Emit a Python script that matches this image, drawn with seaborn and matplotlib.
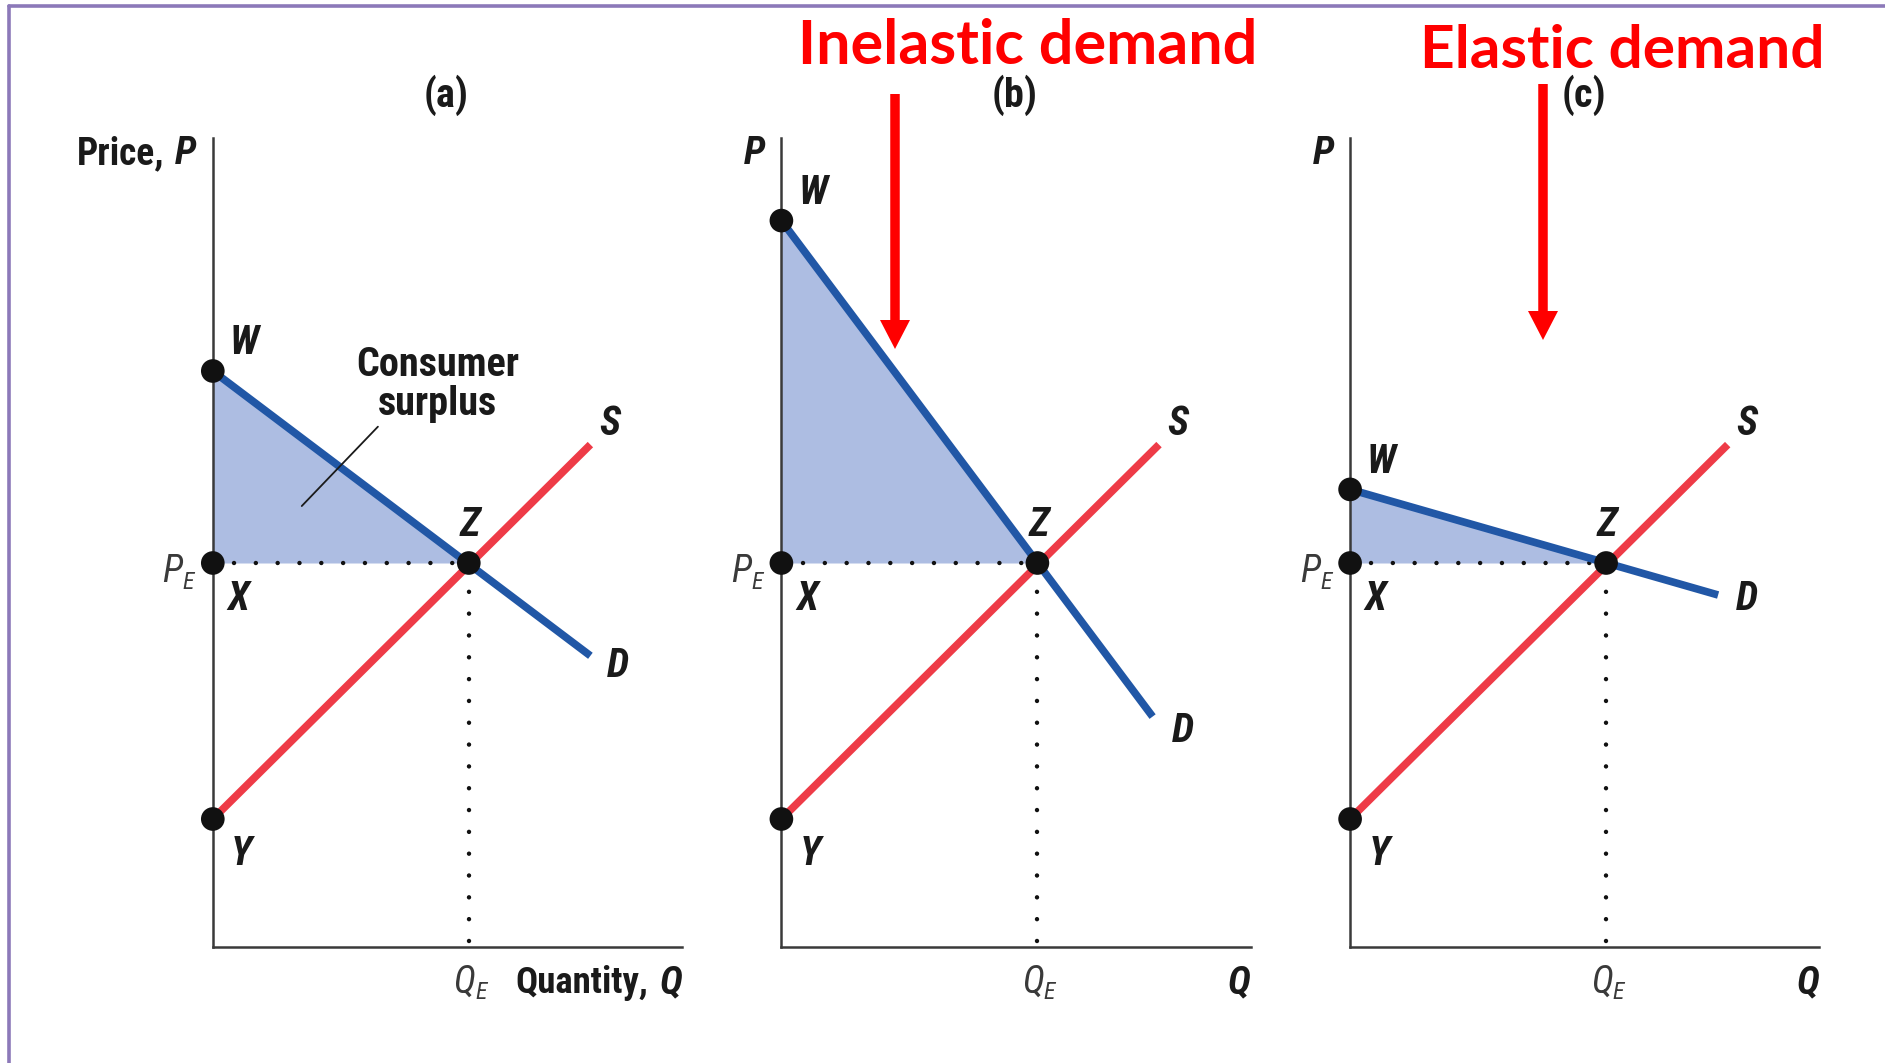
import numpy as np
import pandas as pd
import matplotlib
matplotlib.use("Agg")
import matplotlib.pyplot as plt
import seaborn as sns
from matplotlib.patches import FancyArrow
from matplotlib.lines import Line2D

# ---------------- data ----------------
panel_tags = ["(a)", "(b)", "(c)"]
y_axis_names = ["Price,", "", ""]
x_axis_names = ["Quantity,", "", ""]
headlines = ["Inelastic demand", "Elastic demand"]
eq_quantity = 4.0
eq_price = 6.0
supply_q = [0.0, 5.9]
supply_p = [2.0, 7.85]
demand_top_p = [9.0, 11.35, 7.15]      # point W on each panel
demand_end_q = [5.9, 5.8, 5.75]
demand_end_p = [4.55, 3.6, 5.5]
d_label_q = [6.33, 6.27, 6.2]
d_label_p = [4.39, 3.38, 5.43]

# ---------------- style ----------------
sns.set_theme(style="white")
COND = ["Roboto Condensed", "Roboto", "DejaVu Sans"]
plt.rcParams["font.family"] = COND

RED = "#EE3B47"
BLUE = "#2157A6"
FILL = "#ADBDE2"
AX = "#3a3a3a"
INK = "#1a1a1a"

W_PX, H_PX = 1885, 1063
fig = plt.figure(figsize=(W_PX / 100, H_PX / 100), dpi=100)
fig.patch.set_facecolor("white")

unit = 64.0                     # pixels per data unit
xmax, ymax = 7.33, 12.64
origins_x = [212.8, 781.4, 1350.1]
origin_y = 947.0

lab_kw = dict(family=COND, fontsize=29, fontweight="bold", fontstyle="italic",
              ha="center", va="center", color=INK)
sub_kw = dict(family=COND, fontstyle="italic", color="#3a3a3a", clip_on=False,
              va="baseline")

for i in range(3):
    left = origins_x[i] / W_PX
    bottom = (H_PX - origin_y) / H_PX
    ax = fig.add_axes([left, bottom, xmax * unit / W_PX, ymax * unit / H_PX])
    ax.set_xlim(0, xmax)
    ax.set_ylim(0, ymax)
    ax.set_xticks([])
    ax.set_yticks([])
    for s in ["top", "right"]:
        ax.spines[s].set_visible(False)
    for s in ["left", "bottom"]:
        ax.spines[s].set_color(AX)
        ax.spines[s].set_linewidth(1.8)
    ax.patch.set_alpha(0)

    w = demand_top_p[i]
    # consumer surplus
    ax.fill_between([0, eq_quantity], [w, eq_price], [eq_price, eq_price],
                    color=FILL, lw=0, zorder=1)

    # dotted guides
    dot_kw = dict(color="#111111", lw=3.2, dash_capstyle="round",
                  linestyle=(0, (0.01, 4.9)), zorder=2)
    ax.plot([0.33, eq_quantity], [eq_price, eq_price], **dot_kw)
    ax.plot([eq_quantity, eq_quantity], [0.1, eq_price], **dot_kw)

    df = pd.DataFrame({
        "q": supply_q + [0.0, demand_end_q[i]],
        "p": supply_p + [w, demand_end_p[i]],
        "curve": ["S", "S", "D", "D"],
    })
    sns.lineplot(data=df, x="q", y="p", hue="curve", units="curve",
                 estimator=None, sort=False, legend=False,
                 palette={"S": RED, "D": BLUE}, lw=5.5, ax=ax,
                 zorder=3, clip_on=False, solid_capstyle="butt")

    pts = pd.DataFrame({"q": [0.0, 0.0, 0.0, eq_quantity],
                        "p": [w, eq_price, supply_p[0], eq_price]})
    sns.scatterplot(data=pts, x="q", y="p", color="#111111", s=290,
                    edgecolor="none", ax=ax, zorder=5, clip_on=False)
    ax.set_xlabel("")
    ax.set_ylabel("")

    # point labels
    ax.text(0.49, w + 0.43, "W", **lab_kw)
    ax.text(eq_quantity + 0.02, eq_price + 0.59, "Z", **lab_kw)
    ax.text(0.40, 5.43, "X", **lab_kw)
    ax.text(0.45, 1.45, "Y", **lab_kw)
    ax.text(6.2, 8.17, "S", **lab_kw)
    ax.text(d_label_q[i], d_label_p[i], "D", **lab_kw)

    # P_E and Q_E
    ax.text(-0.47, 5.70, "P", fontsize=27, ha="right", **sub_kw)
    ax.text(-0.47, 5.60, "E", fontsize=17, ha="left", **sub_kw)
    ax.text(4.10, -0.72, "Q", fontsize=27, ha="right", **sub_kw)
    ax.text(4.10, -0.82, "E", fontsize=17, ha="left", **sub_kw)

    # axis names
    ax.text(-0.25, 12.4, "P", family=COND, fontsize=28, fontweight="bold",
            fontstyle="italic", ha="right", va="center", color=INK)
    if y_axis_names[i]:
        ax.text(-0.76, 12.4, y_axis_names[i], family=COND, fontsize=27,
                fontweight="bold", ha="right", va="center", color=INK)
    if x_axis_names[i]:
        ax.text(6.80, -0.72, x_axis_names[i], family=COND, fontsize=26.5,
                fontweight="bold", ha="right", va="baseline", color=INK)
    ax.text(xmax, -0.72, "Q", family=COND, fontsize=28, fontweight="bold",
            fontstyle="italic", ha="right", va="baseline", color=INK)

    # panel tag
    ax.text(3.65, 13.3, panel_tags[i], family=COND, fontsize=29,
            fontweight="bold", ha="center", va="center", color=INK,
            clip_on=False)

    if i == 0:
        ax.text(3.51, 8.79, "Consumer\nsurplus", family=COND, fontsize=29,
                fontweight="bold", ha="center", va="center",
                linespacing=1.02, color=INK)
        ax.plot([1.39, 2.58], [6.89, 8.13], color=INK, lw=1.3, zorder=6)

# ---------------- overlay (pixel coords) ----------------
ov = fig.add_axes([0, 0, 1, 1])
ov.set_xlim(0, W_PX)
ov.set_ylim(H_PX, 0)
ov.axis("off")
ov.patch.set_alpha(0)

PURPLE = "#8C79B9"
ov.add_line(Line2D([9, W_PX], [5.5, 5.5], color=PURPLE, lw=2.6))
ov.add_line(Line2D([9, 9], [5.5, H_PX], color=PURPLE, lw=2.6))

title_kw = dict(family=["Lato", "DejaVu Sans"], fontweight="bold",
                color="#FF0000", ha="center", va="baseline")
ov.text(1028, 64, headlines[0], fontsize=44, **title_kw)
ov.text(1622, 68, headlines[1], fontsize=43.5, **title_kw)

for x0, y0, y1 in [(895, 94, 349), (1543, 84, 340)]:
    ov.add_patch(FancyArrow(x0, y0, 0, y1 - y0, width=9.5, head_width=30,
                            head_length=29, length_includes_head=True,
                            color="#FF0000", lw=0))

fig.savefig("out.png", dpi=100)
